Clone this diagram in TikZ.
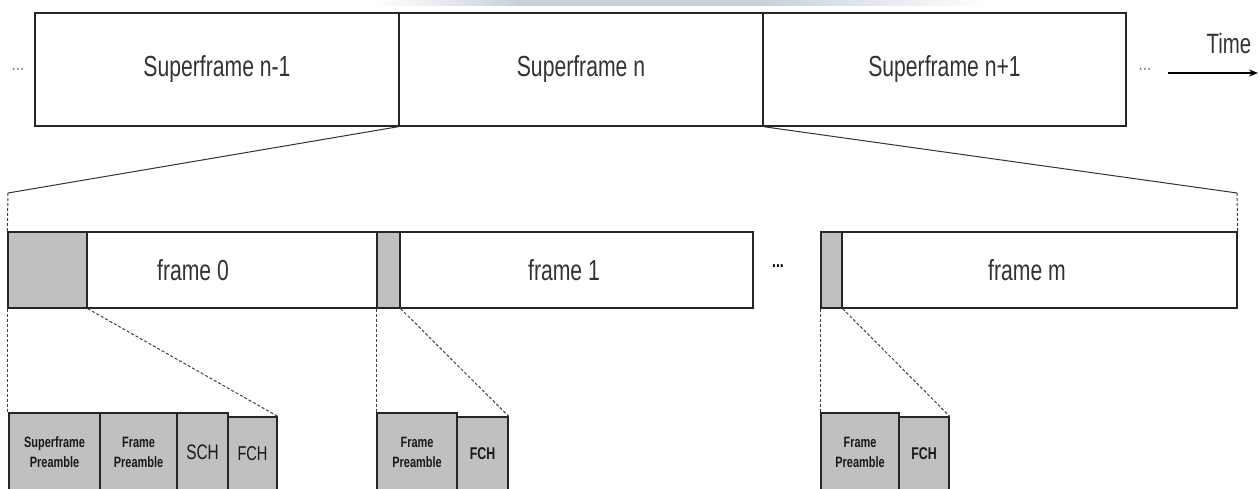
\documentclass[tikz,border=0pt]{standalone}
\usepackage{fontspec}
\setmainfont{Liberation Sans}[FakeStretch=0.73]
\usetikzlibrary{arrows.meta}
\definecolor{hdrgray}{HTML}{C0C0C0}
\definecolor{inkgray}{HTML}{333333}
\definecolor{bandblue}{HTML}{C9D0DD}
\begin{document}
\begin{tikzpicture}[x=1pt,y=-1pt,
  outline/.style={draw=black!85, line width=1.4pt, inner sep=0pt},
  sfbox/.style={outline, fill=white, minimum height=113pt, text=inkgray,
    font=\fontsize{29}{34}\selectfont},
  framebox/.style={outline, fill=white, minimum height=76pt},
  hdrbox/.style={outline, fill=hdrgray, minimum height=76pt},
  fieldbox/.style={outline, fill=hdrgray, minimum height=78pt, align=center,
    text=black!90},
  fchbox/.style={fieldbox, minimum height=74pt},
  framelbl/.style={text=inkgray, font=\fontsize{29}{34}\selectfont},
  small/.style={font=\bfseries\fontsize{15}{20}\selectfont},
  zoomline/.style={draw=black!80, line width=1pt},
  zoomdash/.style={draw=black!75, line width=1pt, dash pattern=on 3pt off 2pt}
]
\useasboundingbox (0,0) rectangle (1260,489);
\clip (0,0) rectangle (1260,489);

% faint banner strip along the top edge
\shade[left color=white, right color=bandblue] (375,0) rectangle (520,6);
\fill[bandblue] (520,0) rectangle (760,6);
\shade[left color=bandblue, right color=white] (760,0) rectangle (990,6);

% superframe sequence
\node[sfbox, minimum width=364pt] (sf1) at (217,69.5) {Superframe n-1};
\node[sfbox, minimum width=364pt] (sf2) at (581,69.5) {Superframe n};
\node[sfbox, minimum width=363pt] (sf3) at (944.5,69.5) {Superframe n+1};
\node[text=black!50, font=\fontsize{21}{24}\selectfont] (dotsL) at (18,69) {...};
\node[text=black!50, font=\fontsize{21}{24}\selectfont] (dotsR) at (1145,69) {...};
\coordinate (tstart) at (1168,73);
\coordinate (tend) at (1258,73);
\draw[line width=1.2pt, -{Stealth[length=9pt,width=7pt]}] (tstart) -- (tend);
\node[text=inkgray, font=\fontsize{28}{32}\selectfont] (time) at (1229,43) {Time};

% frames of superframe n
\node[hdrbox, minimum width=79pt] (g0) at (47.5,270) {};
\node[framebox, minimum width=290pt] (w0) at (232,270) {};
\node[hdrbox, minimum width=23pt] (g1) at (388.5,270) {};
\node[framebox, minimum width=353pt] (w1) at (576.5,270) {};
\node[hdrbox, minimum width=21pt] (gm) at (831.5,270) {};
\node[framebox, minimum width=395pt] (wm) at (1039.5,270) {};
\node[framelbl] (l0) at (193,270) {frame 0};
\node[framelbl] (l1) at (564,270) {frame 1};
\node[framelbl] (lm) at (1027,270) {frame m};
\node[font=\bfseries\fontsize{19}{22}\selectfont] (dotsM) at (778,266) {...};

% expansion of superframe n
\coordinate (kL) at (8,193);
\coordinate (kR) at (1237,193);
\draw[zoomline] (sf2.south west) -- (kL);
\draw[zoomline] (sf2.south east) -- (kR);
\draw[zoomdash] (kL) -- (g0.north west);
\draw[zoomdash] (kR) -- (wm.north east);

% header fields of frame 0
\node[fieldbox, small, minimum width=91pt] (sp0) at (54.5,452) {Superframe\\Preamble};
\node[fieldbox, small, minimum width=77pt] (fp0) at (138.5,452) {Frame\\Preamble};
\node[fieldbox, minimum width=51pt, font=\fontsize{21}{24}\selectfont] (sch0) at (202.5,452) {SCH};
\node[fchbox, minimum width=49pt, font=\fontsize{20}{24}\selectfont] (fch0) at (252.5,454) {FCH};

% header fields of frame 1
\node[fieldbox, small, minimum width=80pt] (fp1) at (417,452) {Frame\\Preamble};
\node[fchbox, minimum width=51pt, font=\bfseries\fontsize{17}{20}\selectfont] (fch1) at (482.5,454) {FCH};

% header fields of frame m
\node[fieldbox, small, minimum width=78pt] (fpm) at (860,452) {Frame\\Preamble};
\node[fchbox, minimum width=50pt, font=\bfseries\fontsize{17}{20}\selectfont] (fchm) at (924,454) {FCH};

% expansion of the frame headers
\draw[zoomdash] (g0.south west) -- (g0.south west |- sp0.north);
\draw[zoomdash] (g0.south east) -- (fch0.north east);
\draw[zoomdash] (g1.south west) -- (fp1.north west);
\draw[zoomdash] (g1.south east) -- (fch1.north east);
\draw[zoomdash] (gm.south west) -- (fpm.north west);
\draw[zoomdash] (gm.south east) -- (fchm.north east);
\end{tikzpicture}
\end{document}
